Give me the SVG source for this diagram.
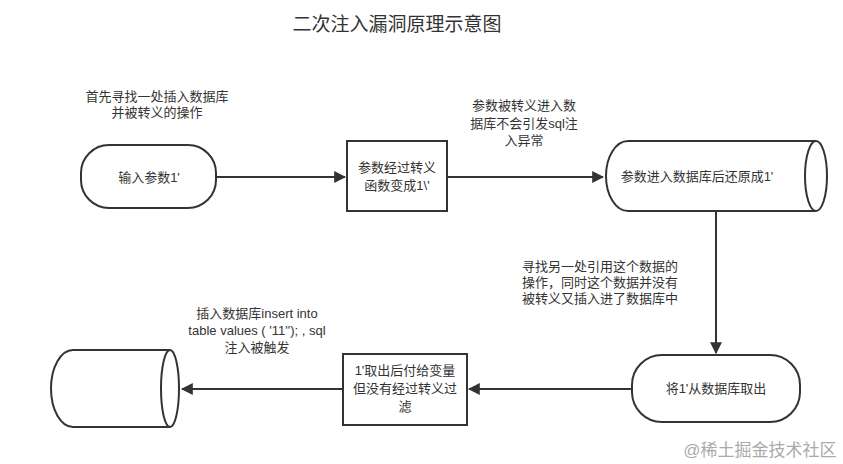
<svg xmlns="http://www.w3.org/2000/svg" width="843" height="464" viewBox="0 0 843 464">
<style>
text{font-family:"Liberation Sans","Noto Sans CJK SC",sans-serif;font-size:13px;fill:#333;text-anchor:middle}
.s{fill:#fff;stroke:#333;stroke-width:2}
.c{stroke:#333;stroke-width:2;fill:none}
</style>
<defs><marker id="a" viewBox="0 0 10 10" refX="9" refY="5" markerWidth="6" markerHeight="6" orient="auto"><path d="M0,0L10,5L0,10z" fill="#333"/></marker></defs>
<rect width="843" height="464" fill="#fff"/>
<text x="397" y="31" style="font-size:19px">二次注入漏洞原理示意图</text>
<g id="connectors">
<line class="c" x1="216" y1="177" x2="345" y2="177" marker-end="url(#a)"/>
<line class="c" x1="447" y1="177" x2="603" y2="177" marker-end="url(#a)"/>
<line class="c" x1="716" y1="211" x2="716" y2="353" marker-end="url(#a)"/>
<line class="c" x1="632" y1="389" x2="469" y2="389" marker-end="url(#a)"/>
<line class="c" x1="343" y1="389" x2="182" y2="389" marker-end="url(#a)"/>
</g>
<g id="n1"><rect class="s" x="81" y="145" width="135" height="63" rx="28"/><text x="149" y="182">输入参数1'</text></g>
<g id="n2"><rect class="s" x="347" y="141" width="100" height="70"/><text x="397" y="172">参数经过转义</text><text x="397" y="190">函数变成1\'</text></g>
<g id="n3"><path class="s" d="M816,141H628A22,35 0 0 0 628,211H816"/><ellipse class="s" cx="816" cy="176" rx="11" ry="35"/><text x="697" y="181">参数进入数据库后还原成1'</text></g>
<g id="n4"><rect class="s" x="632" y="355" width="168" height="67" rx="30"/><text x="716" y="393">将1'从数据库取出</text></g>
<g id="n5"><rect class="s" x="343" y="354" width="124" height="71"/><text x="405" y="375">1'取出后付给变量</text><text x="405" y="393">但没有经过转义过</text><text x="405" y="411">滤</text></g>
<g id="n6"><path class="s" d="M170,350H73A22,38.5 0 0 0 73,427H170"/><ellipse class="s" cx="170" cy="388.5" rx="9" ry="38.5"/></g>
<g id="labels">
<text x="157" y="101">首先寻找一处插入数据库</text><text x="157" y="117">并被转义的操作</text>
<text x="524" y="110">参数被转义进入数</text><text x="524" y="128">据库不会引发sql注</text><text x="524" y="145">入异常</text>
<text x="600" y="271">寻找另一处引用这个数据的</text><text x="600" y="287">操作，同时这个数据并没有</text><text x="600" y="303">被转义又插入进了数据库中</text>
<text x="257" y="318">插入数据库insert into</text><text x="257" y="335">table values ( '11''); , sql</text><text x="257" y="352">注入被触发</text>
</g>
<text x="760" y="456" style="font-size:17px;fill:#aaa">@稀土掘金技术社区</text>
</svg>
